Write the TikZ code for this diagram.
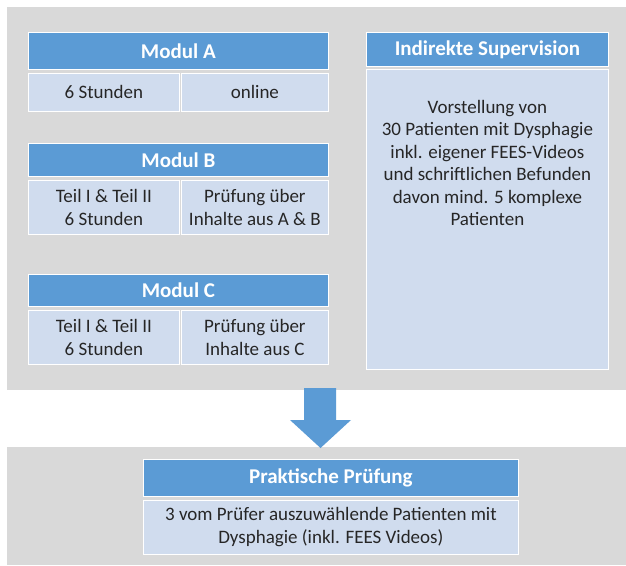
\documentclass[tikz,border=0pt]{standalone}
\usepackage{fontspec}
\setmainfont{Carlito}
\usetikzlibrary{positioning}

\definecolor{hdrblue}{HTML}{5B9BD5}
\definecolor{cellblue}{HTML}{D0DCEE}
\definecolor{panelgray}{HTML}{D9D9D9}
\definecolor{txtgray}{HTML}{262626}

\tikzset{
  hdr/.style={rectangle, fill=hdrblue, draw=white, line width=0.8pt, text=white,
    font=\fontsize{21}{24}\selectfont\bfseries, anchor=north west, inner sep=0pt},
  cell/.style={rectangle, fill=cellblue, draw=white, line width=0.8pt, text=txtgray,
    font=\fontsize{19}{23}\selectfont, align=center, anchor=north west, inner sep=0pt},
  txt/.style={text=txtgray, font=\fontsize{19}{22.5}\selectfont, align=center, inner sep=0pt}
}

\begin{document}
\begin{tikzpicture}[x=1pt,y=-1pt]
  \useasboundingbox (0,0) rectangle (626,565);
  \fill[white] (0,0) rectangle (626,565);

  % panels
  \fill[panelgray] (7,7) rectangle (626,390);
  \fill[panelgray] (7,447) rectangle (626,565);

  % Modul A
  \node[hdr, minimum width=300pt, minimum height=37pt] (modA) at (28,32) {Modul A};
  \node[cell, minimum width=151pt, minimum height=38pt] (modAl) at (28,73) {6 Stunden};
  \node[cell, minimum width=147pt, minimum height=38pt] (modAr) at (181,73) {online};

  % Modul B
  \node[hdr, minimum width=300pt, minimum height=33pt] (modB) at (28,143) {Modul B};
  \node[cell, minimum width=151pt, minimum height=54pt] (modBl) at (28,180) {Teil I \& Teil II\\6 Stunden};
  \node[cell, minimum width=147pt, minimum height=54pt] (modBr) at (181,180) {Prüfung über\\Inhalte aus A \& B};

  % Modul C
  \node[hdr, minimum width=300pt, minimum height=32pt] (modC) at (28,274) {Modul C};
  \node[cell, minimum width=151pt, minimum height=54pt] (modCl) at (28,310) {Teil I \& Teil II\\6 Stunden};
  \node[cell, minimum width=147pt, minimum height=54pt] (modCr) at (181,310) {Prüfung über\\Inhalte aus C};

  % Supervision
  \node[hdr, minimum width=242pt, minimum height=34pt] (sup) at (366,32) {Indirekte Supervision};
  \node[cell, minimum width=242pt, minimum height=300pt] (supbody) at (366,69) {};
  \node[txt, below=31pt of supbody.north] (suptext)
    {Vorstellung von\\30 Patienten mit Dysphagie\\inkl. eigener FEES-Videos\\und schriftlichen Befunden\\davon mind. 5 komplexe\\Patienten};

  % Pfeil
  \fill[hdrblue] (304,388) -- (336,388) -- (336,420) -- (351,420) -- (320.5,448)
    -- (290,420) -- (304,420) -- cycle;

  % Praktische Pruefung
  \node[hdr, minimum width=375pt, minimum height=37pt] (prak) at (143,459) {Praktische Prüfung};
  \node[cell, minimum width=375pt, minimum height=54pt] (prakbody) at (143,500)
    {3 vom Prüfer auszuwählende Patienten mit\\Dysphagie (inkl. FEES Videos)};
\end{tikzpicture}
\end{document}
